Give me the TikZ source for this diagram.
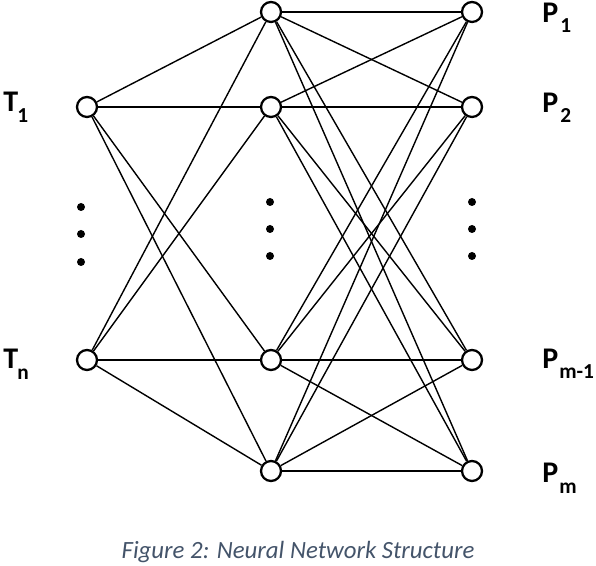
\documentclass[tikz,border=0pt]{standalone}
\usepackage{fontspec}
\setmainfont{Carlito}
\definecolor{capcol}{HTML}{44546A}
\begin{document}
\begin{tikzpicture}[x=0.75pt,y=-0.75pt,
  neuron/.style={circle,draw=black,line width=1.7pt,fill=white,minimum size=15pt,inner sep=0pt},
  link/.style={line width=1.05pt,black},
  dotmark/.style={circle,fill=black,minimum size=6pt,inner sep=0pt},
  lab/.style={anchor=base west,inner sep=0pt,font=\fontsize{22.5}{26}\selectfont\bfseries},
  sub/.style={anchor=base west,inner sep=0pt,font=\fontsize{16}{19}\selectfont\bfseries}]
\useasboundingbox (0,0) rectangle (596,566);
% input layer
\node[neuron] (i1) at (87,107) {};
\node[neuron] (i2) at (87,360) {};
% hidden layer
\node[neuron] (h1) at (271,12) {};
\node[neuron] (h2) at (271,107) {};
\node[neuron] (h3) at (271,360) {};
\node[neuron] (h4) at (271,471) {};
% output layer
\node[neuron] (o1) at (472,12) {};
\node[neuron] (o2) at (472,107) {};
\node[neuron] (o3) at (472,360) {};
\node[neuron] (o4) at (472,471) {};
% connections
\foreach \a in {i1,i2}{\foreach \b in {h1,h2,h3,h4}{\draw[link] (\a) -- (\b);}}
\foreach \a in {h1,h2,h3,h4}{\foreach \b in {o1,o2,o3,o4}{\draw[link] (\a) -- (\b);}}
% dots
\node[dotmark] (d1) at (81,207) {};
\node[dotmark] (d2) at (81,234) {};
\node[dotmark] (d3) at (81,262) {};
\node[dotmark] (e1) at (270,202) {};
\node[dotmark] (e2) at (270,229) {};
\node[dotmark] (e3) at (270,256) {};
\node[dotmark] (f1) at (472,202) {};
\node[dotmark] (f2) at (472,229) {};
\node[dotmark] (f3) at (472,256) {};
% labels
\node[lab] (t1) at (3,112) {T};
\node[sub] (t1s) at (17,123) {1};
\node[lab] (tn) at (3,369) {T};
\node[sub] (tns) at (17,380) {n};
\node[lab] (p1) at (542,23) {P};
\node[sub] (p1s) at (560,33) {1};
\node[lab] (p2) at (542,113) {P};
\node[sub] (p2s) at (560,123) {2};
\node[lab] (p3) at (542,369) {P};
\node[sub] (p3s) at (559,379) {m-1};
\node[lab] (p4) at (542,482) {P};
\node[sub] (p4s) at (559,493) {m};
% caption
\node[anchor=base,inner sep=0pt,text=capcol,font=\fontsize{18.6}{22}\selectfont\itshape] (cap) at (298,558) {Figure 2: Neural Network Structure};
\end{tikzpicture}
\end{document}
